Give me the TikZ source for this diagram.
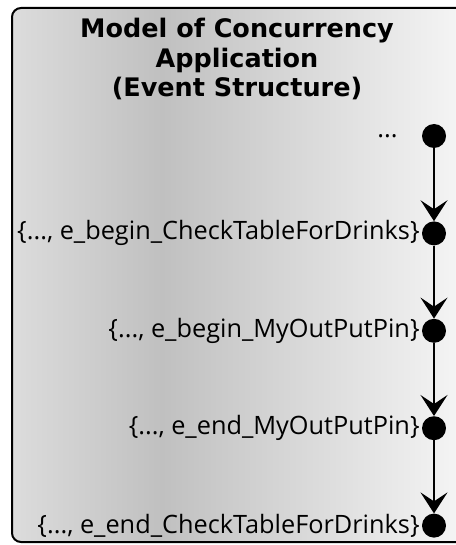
\documentclass[tikz,border=0pt]{standalone}
\usepackage{fontspec}
\setmainfont{Open Sans}
\newfontfamily\titlefont{DejaVu Sans}
\usetikzlibrary{arrows.meta,positioning}
\definecolor{shadeleft}{HTML}{DCDCDC}
\definecolor{shadedark}{HTML}{C0C0C0}
\definecolor{shaderight}{HTML}{F8F8F8}
\pgfdeclarehorizontalshading{panelshade}{100bp}{color(0bp)=(shadeleft); color(25bp)=(shadeleft); color(41bp)=(shadedark); color(75bp)=(shaderight); color(100bp)=(shaderight)}

\begin{document}
\begin{tikzpicture}[
  x=1pt, y=-1pt,
  panel/.style={draw, line width=2pt, rounded corners=9pt, shade, shading=panelshade},
  ttl/.style={align=center, font=\titlefont\bfseries\fontsize{25.5}{29.5}\selectfont},
  evt/.style={circle, fill=black, inner sep=0pt, minimum size=24pt},
  lbl/.style={inner sep=1pt, font=\fontsize{25.3}{29}\selectfont},
  flow/.style={-{Stealth[length=21pt, width=27pt, inset=9pt]}, line width=1.6pt}
]
\useasboundingbox (0,0) rectangle (455,545);
\path[panel] (12,8) rectangle (480,542);
\node[ttl] (title) at (237,59) {Model of Concurrency\\Application\\(Event Structure)};
\node[evt] (e0) at (434,136) {};
\node[evt, below=73pt of e0] (e1) {};
\node[evt, below=73pt of e1] (e2) {};
\node[evt, below=73pt of e2] (e3) {};
\node[evt, below=73pt of e3] (e4) {};
\node[lbl, left=23pt of e0] (l0) {...};
\node[lbl, left=1pt of e1] (l1) {\{..., e\_begin\_CheckTableForDrinks\}};
\node[lbl, left=1pt of e2] (l2) {\{..., e\_begin\_MyOutPutPin\}};
\node[lbl, left=1pt of e3] (l3) {\{..., e\_end\_MyOutPutPin\}};
\node[lbl, left=1pt of e4] (l4) {\{..., e\_end\_CheckTableForDrinks\}};
\draw[flow] (e0) -- (e1);
\draw[flow] (e1) -- (e2);
\draw[flow] (e2) -- (e3);
\draw[flow] (e3) -- (e4);
\end{tikzpicture}
\end{document}
